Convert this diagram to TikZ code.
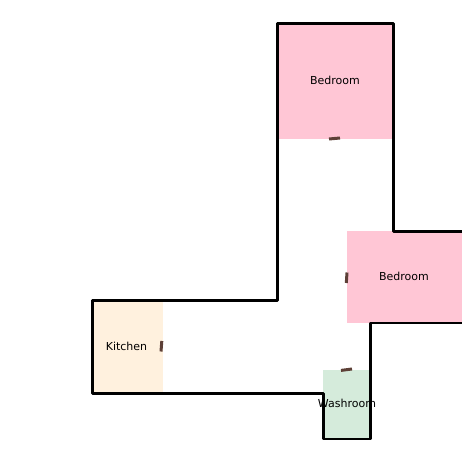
\documentclass[tikz,border=0pt]{standalone}
\usepackage{fontspec}
\setmainfont{DejaVu Sans}
\definecolor{bedroomfill}{HTML}{FFC6D5}
\definecolor{kitchenfill}{HTML}{FFF1DE}
\definecolor{washroomfill}{HTML}{D5EBDB}
\definecolor{doorcolor}{HTML}{5D4037}
\tikzset{
  wall/.style={line width=2.8pt, line join=round, line cap=round},
  door/.style={line width=3pt, doorcolor},
  roomlabel/.style={font=\fontsize{11}{12}\selectfont, inner sep=0pt}
}
\begin{document}
\begin{tikzpicture}[x=1pt, y=-1pt]

\useasboundingbox (0,0) rectangle (462,462);

\begin{scope}
\clip (0,0) rectangle (462,462);

\fill[bedroomfill] (277,23) rectangle (393,139.5);
\fill[bedroomfill] (347,231) rectangle (462,323);
\fill[kitchenfill] (92,300) rectangle (162.5,393);
\fill[washroomfill] (323,370) rectangle (370,439);

\draw[wall] (277.5,23.5) -- (393.5,23.5) -- (393.5,231.5) -- (466,231.5) -- (466,323)
  -- (370.5,323) -- (370.5,439) -- (323.5,439) -- (323.5,393.5)
  -- (92.5,393.5) -- (92.5,300.5) -- (277.5,300.5) -- cycle;

\foreach \xa/\ya/\xb/\yb in {329/139/340/138, 347/272.5/346.3/283, 161.8/341/161/351.5, 341/370.4/352/369}
\draw[door] (\xa,\ya) -- (\xb,\yb);

\end{scope}

\node[roomlabel] (bedroomtop) at (335,80.3) {Bedroom};
\node[roomlabel] (bedroomright) at (404,276.3) {Bedroom};
\node[roomlabel] (kitchen) at (126.5,346.3) {Kitchen};
\node[roomlabel] (washroom) at (347,403.3) {Washroom};

\end{tikzpicture}
\end{document}
